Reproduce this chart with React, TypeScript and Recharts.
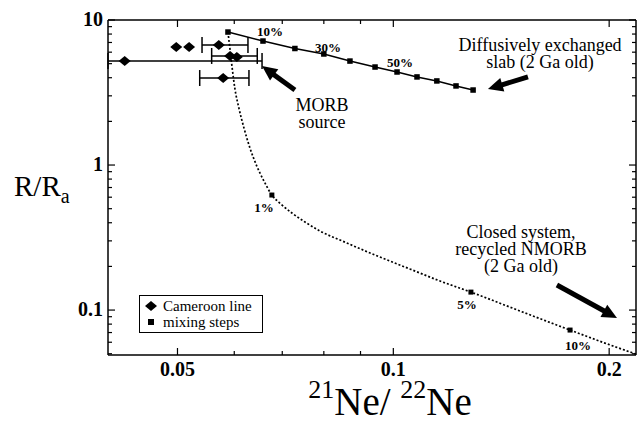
import {
  ErrorBar,
  Legend,
  ReferenceDot,
  ReferenceLine,
  Scatter,
  ScatterChart,
  XAxis,
  YAxis,
} from "recharts";

const SERIF = '"Liberation Serif", "DejaVu Serif", serif';

// axes
const X_DOMAIN = [0.04, 0.218];
const Y_DOMAIN = [0.049, 10];
const X_TICKS = [0.05, 0.06, 0.07, 0.08, 0.09, 0.1, 0.2];
const X_MAJOR = [0.05, 0.1, 0.2];
const Y_TICKS = [
  0.05, 0.06, 0.07, 0.08, 0.09, 0.1, 0.2, 0.3, 0.4, 0.5, 0.6, 0.7, 0.8, 0.9,
  1, 2, 3, 4, 5, 6, 7, 8, 9, 10,
];
const Y_MAJOR = [0.1, 1, 10];

// Cameroon line samples (21Ne/22Ne, R/Ra) + x error extents
const cameroonNe = [0.0422, 0.0498, 0.0519, 0.0571, 0.0592, 0.0605, 0.0579];
const cameroonR = [5.21, 6.51, 6.51, 6.72, 5.65, 5.56, 3.98];
const cameroonNeMin = [0.04, null, null, 0.0541, 0.0558, null, 0.0537];
const cameroonNeMax = [0.0656, null, null, 0.0627, 0.0646, null, 0.0629];

// diffusively exchanged slab mixing steps (0..100%, 10% steps)
const slabNe = [0.0588, 0.0658, 0.0729, 0.08, 0.087, 0.0943, 0.1012, 0.1079, 0.115, 0.1223, 0.1292];
const slabR = [8.26, 7.16, 6.36, 5.83, 5.21, 4.74, 4.38, 4.05, 3.8, 3.51, 3.29];

// closed system recycled NMORB curve
const closedNe = [
  0.0588, 0.0592, 0.0596, 0.0601, 0.0609, 0.0619, 0.0631, 0.0645, 0.066, 0.0677,
  0.0697, 0.0722, 0.0753, 0.079, 0.0856, 0.0943, 0.1055, 0.1162, 0.1283, 0.1502,
  0.1764, 0.1973, 0.218,
];
const closedR = [
  8.26, 6.21, 4.67, 3.4, 2.47, 1.8, 1.31, 0.984, 0.776, 0.621,
  0.538, 0.467, 0.405, 0.351, 0.294, 0.2395, 0.1918, 0.1585, 0.133, 0.0985,
  0.0728, 0.0592, 0.0497,
];
// marked steps on that curve: 1%, 5%, 10%
const closedStepNe = [0.0677, 0.1283, 0.1764];
const closedStepR = [0.621, 0.133, 0.0728];

// text notes
const noteNe = [0.0673, 0.0811, 0.1022, 0.066, 0.1267, 0.181, 0.1602, 0.0795, 0.1507];
const noteR = [8.4, 6.51, 5.13, 0.513, 0.11, 0.0574, 6.72, 2.59, 0.345];
const noteText = [
  ["10%"],
  ["30%"],
  ["50%"],
  ["1%"],
  ["5%"],
  ["10%"],
  ["Diffusively exchanged", "slab (2 Ga old)"],
  ["MORB", "source"],
  ["Closed system,", "recycled NMORB", "(2 Ga old)"],
];

// arrows: tail -> tip
const arrowFrom = [
  { ne: 0.1541, r: 4.05 },
  { ne: 0.0729, r: 3.29 },
  { ne: 0.1691, r: 0.1488 },
];
const arrowTo = [
  { ne: 0.1355, r: 3.34 },
  { ne: 0.0656, r: 4.82 },
  { ne: 0.2051, r: 0.0881 },
];

const cameroonRows = cameroonNe.map((ne, i) => {
  const lo = cameroonNeMin[i];
  const hi = cameroonNeMax[i];
  return {
    ne,
    r: cameroonR[i],
    err: lo == null || hi == null ? null : [ne - lo, hi - ne],
  };
});
const cameroonWithErr = cameroonRows.filter((d) => d.err);
const slabRows = slabNe.map((ne, i) => ({ ne, r: slabR[i] }));
const closedRows = closedNe.map((ne, i) => ({ ne, r: closedR[i] }));
const closedStepRows = closedStepNe.map((ne, i) => ({ ne, r: closedStepR[i] }));

const axisLine = { stroke: "#000", strokeWidth: 1.5 };

function BottomTick(props: any) {
  const { x, y, payload } = props;
  const major = X_MAJOR.includes(payload.value);
  return (
    <g>
      <line x1={x} y1={y} x2={x} y2={y - (major ? 7 : 4)} stroke="#000" strokeWidth={1.2} />
      {major ? (
        <text x={x} y={y + 21} textAnchor="middle" fontFamily={SERIF} fontWeight="bold" fontSize={20}>
          {String(payload.value)}
        </text>
      ) : null}
    </g>
  );
}

function TopTick(props: any) {
  const { x, y, payload } = props;
  const major = X_MAJOR.includes(payload.value);
  return <line x1={x} y1={y} x2={x} y2={y + (major ? 7 : 4)} stroke="#000" strokeWidth={1.2} />;
}

function LeftTick(props: any) {
  const { x, y, payload } = props;
  const major = Y_MAJOR.includes(payload.value);
  return (
    <g>
      <line x1={x} y1={y} x2={x + (major ? 7 : 4)} y2={y} stroke="#000" strokeWidth={1.2} />
      {major ? (
        <text x={x - 5} y={y + 6} textAnchor="end" fontFamily={SERIF} fontWeight="bold" fontSize={20}>
          {String(payload.value)}
        </text>
      ) : null}
    </g>
  );
}

function RightTick(props: any) {
  const { x, y, payload } = props;
  const major = Y_MAJOR.includes(payload.value);
  return <line x1={x} y1={y} x2={x - (major ? 7 : 4)} y2={y} stroke="#000" strokeWidth={1.2} />;
}

function YTitle({ viewBox }: any) {
  return (
    <text x={viewBox.x + 14} y={viewBox.y + viewBox.height / 2 + 8} fontFamily={SERIF} fontSize={29}>
      R/R
      <tspan fontSize={20} dy={7}>
        a
      </tspan>
    </text>
  );
}

function XTitle({ viewBox }: any) {
  const cx = viewBox.x + viewBox.width / 2 + 18;
  return (
    <text x={cx} y={viewBox.y + 60} textAnchor="middle" fontFamily={SERIF} fontSize={39}>
      <tspan fontSize={26} dy={-17}>21</tspan>
      <tspan dy={17}>Ne/ </tspan>
      <tspan fontSize={26} dy={-17}>22</tspan>
      <tspan dy={17}>Ne</tspan>
    </text>
  );
}

function noteLabel(lines: string[]) {
  const pct = lines.length === 1;
  const size = pct ? 13 : 18;
  const lh = 17;
  return (p: any) => {
    const vb = p.viewBox;
    const cx = vb.x + (vb.width || 0) / 2;
    const cy = vb.y + (vb.height || 0) / 2;
    return (
      <text
        x={cx}
        y={cy}
        textAnchor="middle"
        fontFamily={SERIF}
        fontSize={size}
        fontWeight={pct ? "bold" : "normal"}
      >
        {lines.map((t, i) => (
          <tspan key={i} x={cx} dy={i === 0 ? size * 0.35 : lh}>
            {t}
          </tspan>
        ))}
      </text>
    );
  };
}

function arrowShape(props: any) {
  const { x1, y1, x2, y2 } = props;
  const dx = x2 - x1;
  const dy = y2 - y1;
  const len = Math.hypot(dx, dy) || 1;
  const ux = dx / len;
  const uy = dy / len;
  const head = 15;
  const half = 7;
  const bx = x2 - ux * head;
  const by = y2 - uy * head;
  return (
    <g>
      <line x1={x1} y1={y1} x2={bx + ux * 2} y2={by + uy * 2} stroke="#000" strokeWidth={5} />
      <polygon
        points={`${x2},${y2} ${bx - uy * half},${by + ux * half} ${bx + uy * half},${by - ux * half}`}
        fill="#000"
      />
    </g>
  );
}

const diamond = (p: any) => (
  <polygon points={`${p.cx},${p.cy - 5} ${p.cx + 6},${p.cy} ${p.cx},${p.cy + 5} ${p.cx - 6},${p.cy}`} fill="#000" />
);
const square = (p: any) => <rect x={p.cx - 2.75} y={p.cy - 2.75} width={5.5} height={5.5} fill="#000" />;
const smallSquare = (p: any) => <rect x={p.cx - 2.5} y={p.cy - 2.5} width={5} height={5} fill="#000" />;
const nothing = () => <g />;

function LegendBox() {
  return (
    <div
      style={{
        boxSizing: "border-box",
        width: 124,
        height: 38,
        border: "1.5px solid #000",
        background: "#fff",
        fontFamily: SERIF,
        fontSize: 15,
        lineHeight: "16px",
        padding: "2px 0 0 5px",
        color: "#000",
      }}
    >
      <div style={{ display: "flex", alignItems: "center" }}>
        <svg width={18} height={12}>
          <polygon points="6,1 12,6 6,11 0,6" fill="#000" />
        </svg>
        <span>Cameroon line</span>
      </div>
      <div style={{ display: "flex", alignItems: "center" }}>
        <svg width={18} height={12}>
          <rect x={3} y={3} width={6} height={6} fill="#000" />
        </svg>
        <span>mixing steps</span>
      </div>
    </div>
  );
}

export default function App() {
  return (
    <div style={{ position: "absolute", left: 0, top: 0, width: 637, height: 422, background: "#fff" }}>
      <ScatterChart width={637} height={422} margin={{ top: 0, right: 0, bottom: 0, left: 0 }}>
        <XAxis
          dataKey="ne"
          type="number"
          scale="log"
          domain={X_DOMAIN}
          allowDataOverflow
          ticks={X_TICKS}
          interval={0}
          height={67}
          tickSize={0}
          tickMargin={0}
          tickLine={false}
          axisLine={axisLine}
          tick={<BottomTick />}
          label={<XTitle />}
        />
        <XAxis
          xAxisId="top"
          orientation="top"
          dataKey="ne"
          type="number"
          scale="log"
          domain={X_DOMAIN}
          allowDataOverflow
          ticks={X_TICKS}
          interval={0}
          height={20}
          tickSize={0}
          tickMargin={0}
          tickLine={false}
          axisLine={axisLine}
          tick={<TopTick />}
        />
        <YAxis
          dataKey="r"
          type="number"
          scale="log"
          domain={Y_DOMAIN}
          allowDataOverflow
          ticks={Y_TICKS}
          interval={0}
          width={108}
          tickSize={0}
          tickMargin={0}
          tickLine={false}
          axisLine={axisLine}
          tick={<LeftTick />}
          label={<YTitle />}
        />
        <YAxis
          yAxisId="right"
          orientation="right"
          dataKey="r"
          type="number"
          scale="log"
          domain={Y_DOMAIN}
          allowDataOverflow
          ticks={Y_TICKS}
          interval={0}
          width={1}
          tickSize={0}
          tickMargin={0}
          tickLine={false}
          axisLine={axisLine}
          tick={<RightTick />}
        />

        <Scatter
          data={closedRows}
          line={{ stroke: "#000", strokeWidth: 1.7, strokeDasharray: "2 2" }}
          lineJointType="monotoneX"
          shape={nothing}
          isAnimationActive={false}
        />
        <Scatter
          data={slabRows}
          line={{ stroke: "#000", strokeWidth: 1.5 }}
          shape={square}
          isAnimationActive={false}
        />
        <Scatter data={closedStepRows} shape={smallSquare} isAnimationActive={false} />
        <Scatter data={cameroonWithErr} shape={nothing} isAnimationActive={false}>
          <ErrorBar dataKey="err" direction="x" width={8} stroke="#000" strokeWidth={1.5} />
        </Scatter>
        <Scatter data={cameroonRows} shape={diamond} isAnimationActive={false} />

        {arrowFrom.map((a, i) => (
          <ReferenceLine
            key={`arrow-${i}`}
            segment={[
              { x: a.ne, y: a.r },
              { x: arrowTo[i].ne, y: arrowTo[i].r },
            ]}
            ifOverflow="visible"
            shape={arrowShape}
          />
        ))}
        {noteText.map((lines, i) => (
          <ReferenceDot
            key={`note-${i}`}
            x={noteNe[i]}
            y={noteR[i]}
            r={0}
            fill="none"
            stroke="none"
            ifOverflow="visible"
            label={noteLabel(lines)}
          />
        ))}

        <Legend
          layout="horizontal"
          verticalAlign="middle"
          align="center"
          wrapperStyle={{ left: 139, top: 295, width: 124, height: 38 }}
          content={() => <LegendBox />}
        />
      </ScatterChart>
    </div>
  );
}
